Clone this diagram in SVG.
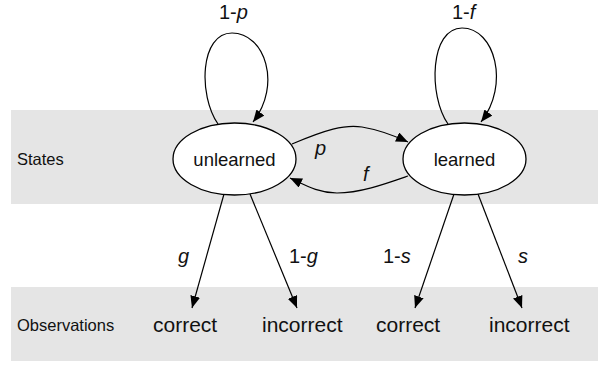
<svg xmlns="http://www.w3.org/2000/svg" width="598" height="367" viewBox="0 0 598 367">
  <style>
    .band { fill: #e5e5e5; }
    .node { fill: #ffffff; stroke: #000000; stroke-width: 1.3; }
    .edge { fill: none; stroke: #000000; stroke-width: 1.2; marker-end: url(#arrow); }
    .lane { font-family: "Liberation Sans", Arial, sans-serif; font-size: 16.5px; fill: #111; }
    .name { font-family: "Liberation Sans", Arial, sans-serif; font-size: 18.5px; fill: #111; text-anchor: middle; }
    .obs  { font-family: "Liberation Sans", Arial, sans-serif; font-size: 21px; fill: #111; }
    .lbl  { font-family: "Liberation Sans", Arial, sans-serif; font-size: 20px; fill: #111; }
    .it   { font-style: italic; }
  </style>
  <defs>
    <marker id="arrow" viewBox="0 0 12 10" refX="12" refY="5" markerWidth="12" markerHeight="10" markerUnits="userSpaceOnUse" orient="auto">
      <path d="M0,0 L12,5 L0,10 Z" fill="#000"/>
    </marker>
  </defs>

  <!-- background lanes -->
  <rect class="band" x="11" y="110" width="587" height="94"/>
  <rect class="band" x="11" y="287" width="587" height="74"/>
  <text class="lane" x="17" y="165">States</text>
  <text class="lane" x="17" y="331">Observations</text>

  <!-- connectors -->
  <g id="edges">
    <path class="edge" d="M218,124 C198,95 200,33 232,33 C265,33 282,85 253,122"/>
    <path class="edge" d="M448,124 C428,95 430,28 462,28 C495,28 510,85 481,122"/>
    <path class="edge" d="M292,144 C325,130 345,124 362,127 C380,130 395,136 408,142"/>
    <path class="edge" d="M408,176 C385,184 360,193 337,193 C318,193 305,185 290,178"/>
    <path class="edge" d="M224,194 L192,308"/>
    <path class="edge" d="M250,194 L297,308"/>
    <path class="edge" d="M454,194 L415,308"/>
    <path class="edge" d="M478,194 L522,308"/>
  </g>

  <!-- edge labels -->
  <g id="edge-labels">
    <text class="lbl" x="219" y="19">1-<tspan class="it">p</tspan></text>
    <text class="lbl" x="452" y="19">1-<tspan class="it">f</tspan></text>
    <text class="lbl it" x="315" y="155">p</text>
    <text class="lbl it" x="363" y="181">f</text>
    <text class="lbl it" x="178" y="263">g</text>
    <text class="lbl" x="289" y="263">1-<tspan class="it">g</tspan></text>
    <text class="lbl" x="383" y="263">1-<tspan class="it">s</tspan></text>
    <text class="lbl it" x="518" y="263">s</text>
  </g>

  <!-- state nodes -->
  <g id="unlearned">
    <ellipse class="node" cx="234.5" cy="159" rx="61.5" ry="36"/>
    <text class="name" x="234.5" y="166">unlearned</text>
  </g>
  <g id="learned">
    <ellipse class="node" cx="464.5" cy="159" rx="61.5" ry="36"/>
    <text class="name" x="464.5" y="166">learned</text>
  </g>

  <!-- observation nodes -->
  <g id="obs-correct-1"><text class="obs" x="153" y="332">correct</text></g>
  <g id="obs-incorrect-1"><text class="obs" x="262" y="332">incorrect</text></g>
  <g id="obs-correct-2"><text class="obs" x="376" y="332">correct</text></g>
  <g id="obs-incorrect-2"><text class="obs" x="489" y="332">incorrect</text></g>
</svg>
